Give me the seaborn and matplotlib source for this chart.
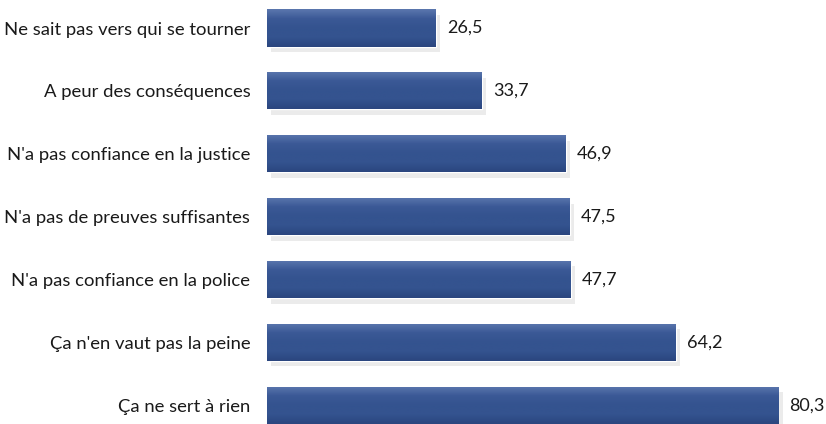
import matplotlib
matplotlib.use("Agg")
from matplotlib import pyplot as plt
from matplotlib import patheffects as pe
import seaborn as sns
import numpy as np
import pandas as pd

# donnees
raisons = ["Ne sait pas vers qui se tourner",
           "A peur des conséquences",
           "N'a pas confiance en la justice",
           "N'a pas de preuves suffisantes",
           "N'a pas confiance en la police",
           "Ça n'en vaut pas la peine",
           "Ça ne sert à rien"]
valeurs = [26.5, 33.7, 46.9, 47.5, 47.7, 64.2, 80.3]

df = pd.DataFrame({"raison": raisons, "valeur": valeurs})

sns.set_style("white")
plt.rcParams["font.family"] = ["Lato", "DejaVu Sans"]

fig = plt.figure(figsize=(8.26, 4.24), dpi=100)
ax = fig.add_axes([0.3232, 0.0, 0.674, 1.0])

sns.barplot(data=df, x="valeur", y="raison", color="#34528f", saturation=1,
            width=0.59, ax=ax)

# ombre + degrade sur les barres (clair en haut, fonce en bas)
grad = np.linspace(0, 1, 50).reshape(-1, 1)
cmap = matplotlib.colors.LinearSegmentedColormap.from_list(
    "barre", ["#5a76ad", "#3b5996", "#34538f", "#34538f", "#2b467f"])
for p in ax.patches:
    p.set_path_effects([pe.SimplePatchShadow(offset=(3, -4), shadow_rgbFace="#b0b0b0",
                                             alpha=0.25), pe.Normal()])
    x0, y0 = p.get_x(), p.get_y()
    w, h = p.get_width(), p.get_height()
    im = ax.imshow(grad, extent=[x0, x0 + w, y0 + h, y0], aspect="auto",
                   cmap=cmap, origin="upper", zorder=p.get_zorder() + 0.1)
    im.set_clip_path(p)

ax.bar_label(ax.containers[0], labels=[f"{v:.1f}".replace(".", ",") for v in valeurs],
             padding=8, fontsize=13, color="#1a1a1a")

ax.set_xlim(0, 87.4)
ax.set_ylim(6.30, -0.446)
ax.set_xlabel("")
ax.set_ylabel("")
ax.set_xticks([])
ax.tick_params(axis="y", length=0, pad=12, labelsize=13.3, labelcolor="#1a1a1a")
sns.despine(ax=ax, left=True, bottom=True)

fig.savefig("out.png", dpi=100)
